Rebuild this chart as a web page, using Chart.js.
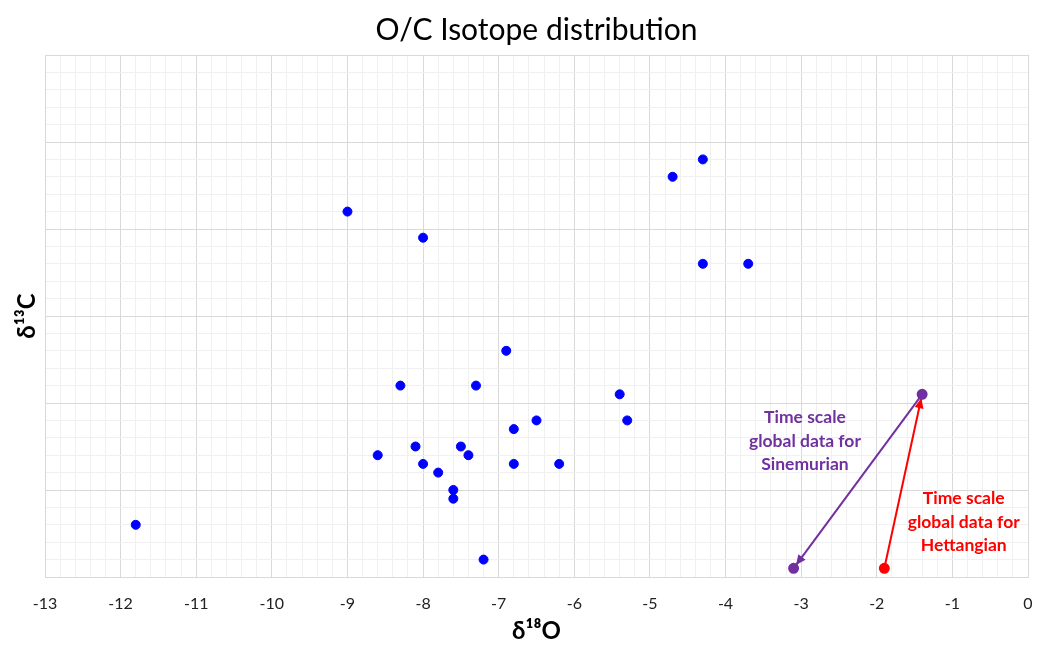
<!DOCTYPE html>
<html>
<head>
<meta charset="utf-8">
<script src="https://cdn.jsdelivr.net/npm/chart.js@4"></script>
<style>
  html, body { margin: 0; padding: 0; background: #fff; }
  #wrap { width: 1043px; height: 646px; }
</style>
</head>
<body>
<div id="wrap"><canvas id="myChart" width="1043" height="646"></canvas></div>
<script>
// sample measurements (d18O, d13C)
var d18O = [-11.8, -9.0, -8.0, -4.7, -4.3, -4.3, -3.7, -6.9, -8.3, -7.3, -5.4, -5.3, -6.5,
            -6.8, -8.1, -7.5, -8.6, -7.4, -8.0, -6.8, -6.2, -7.8, -7.6, -7.6, -7.2]
var d13C = [-1.4, 2.2, 1.9, 2.6, 2.8, 1.6, 1.6, 0.6, 0.2, 0.2, 0.1, -0.2, -0.2,
            -0.3, -0.5, -0.5, -0.6, -0.6, -0.7, -0.7, -0.7, -0.8, -1.0, -1.1, -1.8]

// global time scale data: [end, start]
var sinemurianX = [-1.4, -3.1]
var sinemurianY = [0.1, -1.9]
var hettangianX = [-1.9, -1.4]
var hettangianY = [-1.9, 0.1]

var xTicksMin = -13, xTicksMax = 0
var yMin = -2, yMax = 4

var chartTitle = 'O/C Isotope distribution'
var FONT = 'Lato, "Open Sans", sans-serif'

function toPoints(xs, ys) {
  return xs.map(function (x, i) { return { x: x, y: ys[i] } })
}

function isMajor(v) {
  return Math.abs(v - Math.round(v)) < 1e-6
}

function arrowHead(ctx, x1, y1, x2, y2, color) {
  var ang = Math.atan2(y2 - y1, x2 - x1)
  var len = 11, w = 0.42
  ctx.save()
  ctx.fillStyle = color
  ctx.beginPath()
  ctx.moveTo(x2, y2)
  ctx.lineTo(x2 - len * Math.cos(ang - w), y2 - len * Math.sin(ang - w))
  ctx.lineTo(x2 - len * Math.cos(ang + w), y2 - len * Math.sin(ang + w))
  ctx.closePath()
  ctx.fill()
  ctx.restore()
}

var annotations = {
  id: 'annotations',
  afterDatasetsDraw: function (chart) {
    var ctx = chart.ctx
    var xs = chart.scales.x, ys = chart.scales.y
    var area = chart.chartArea

    // title centred over the plot area
    ctx.save()
    ctx.font = '30px ' + FONT
    ctx.fillStyle = '#000'
    ctx.textAlign = 'center'
    ctx.textBaseline = 'middle'
    ctx.fillText(chartTitle, (area.left + area.right) / 2, 30)
    ctx.restore()

    // arrow heads, stopping a little short of the end point
    function head(xArr, yArr, color) {
      var x1 = xs.getPixelForValue(xArr[0]), y1 = ys.getPixelForValue(yArr[0])
      var x2 = xs.getPixelForValue(xArr[1]), y2 = ys.getPixelForValue(yArr[1])
      var d = Math.hypot(x2 - x1, y2 - y1)
      var t = (d - 4) / d
      arrowHead(ctx, x1, y1, x1 + (x2 - x1) * t, y1 + (y2 - y1) * t, color)
    }
    head(sinemurianX, sinemurianY, '#7030A0')
    head(hettangianX, hettangianY, '#FF0000')

    ctx.save()
    ctx.font = 'bold 17.5px ' + FONT
    ctx.textAlign = 'center'
    ctx.textBaseline = 'middle'
    var lines = ['Time scale', 'global data for']
    var px = xs.getPixelForValue(-2.95), py = ys.getPixelForValue(-0.17)
    ctx.fillStyle = '#7030A0'
    lines.concat(['Sinemurian']).forEach(function (s, i) { ctx.fillText(s, px, py + i * 23.5) })
    px = xs.getPixelForValue(-0.85); py = ys.getPixelForValue(-1.1)
    ctx.fillStyle = '#FF0000'
    lines.concat(['Hettangian']).forEach(function (s, i) { ctx.fillText(s, px, py + i * 23.5) })
    ctx.restore()
  }
}

var ctx = document.getElementById('myChart').getContext('2d')
var chart = new Chart(ctx, {
  type: 'scatter',
  data: {
    datasets: [
      {
        label: 'Samples',
        data: toPoints(d18O, d13C),
        backgroundColor: '#0000FF',
        borderColor: '#0000FF',
        pointRadius: 4.5,
        pointHoverRadius: 4.5
      },
      {
        label: 'Sinemurian',
        data: toPoints(sinemurianX, sinemurianY),
        showLine: true,
        borderColor: '#7030A0',
        backgroundColor: '#7030A0',
        borderWidth: 2,
        pointRadius: 4.5
      },
      {
        label: 'Hettangian',
        data: toPoints(hettangianX, hettangianY),
        showLine: true,
        borderColor: '#FF0000',
        backgroundColor: '#FF0000',
        borderWidth: 2,
        pointRadius: [4.5, 0]
      }
    ]
  },
  options: {
    responsive: false,
    animation: false,
    layout: { padding: { right: 15, left: 0, top: 55, bottom: 0 } },
    plugins: {
      legend: { display: false },
      tooltip: { enabled: false },
      title: { display: false }
    },
    scales: {
      x: {
        type: 'linear',
        min: xTicksMin,
        max: xTicksMax,
        afterFit: function (s) {
          s.height = 69
          s.paddingLeft = 0
          s.paddingRight = 0
        },
        ticks: {
          stepSize: 0.2,
          autoSkip: false,
          maxRotation: 0,
          padding: 17,
          color: '#222',
          font: { family: FONT, size: 16 },
          callback: function (v) { return isMajor(v) ? String(Math.round(v)) : '' }
        },
        grid: {
          drawTicks: false,
          color: function (c) { return isMajor(c.tick.value) ? '#d9d9d9' : '#f0f0f0' },
          lineWidth: 1
        },
        border: { color: '#d9d9d9' },
        title: {
          display: true,
          text: 'δ¹⁸O',
          color: '#000',
          font: { family: FONT, size: 24, weight: 'bold' },
          padding: { top: 0, bottom: 0 }
        }
      },
      y: {
        type: 'linear',
        min: yMin,
        max: yMax,
        afterFit: function (s) { s.width = 45 },
        ticks: {
          stepSize: 0.2,
          autoSkip: false,
          display: false
        },
        grid: {
          drawTicks: false,
          color: function (c) { return isMajor(c.tick.value) ? '#d9d9d9' : '#f0f0f0' },
          lineWidth: 1
        },
        border: { color: '#d9d9d9' },
        title: {
          display: true,
          text: 'δ¹³C',
          color: '#000',
          font: { family: FONT, size: 24, weight: 'bold' },
          padding: { top: 13, bottom: 0 }
        }
      }
    }
  },
  plugins: [annotations]
})
</script>
</body>
</html>
